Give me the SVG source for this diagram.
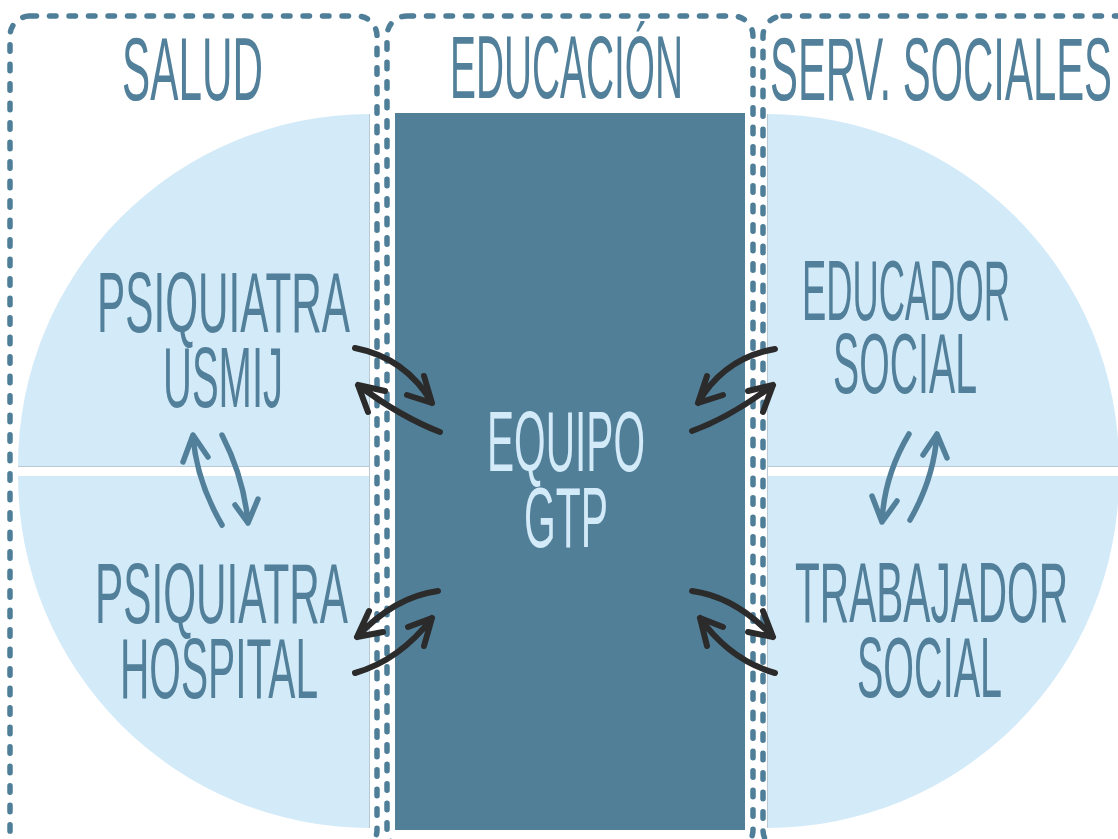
<svg xmlns="http://www.w3.org/2000/svg" width="1118" height="839" viewBox="0 0 1118 839">
<style>
.light{fill:#d3eaf9}
.edge{stroke:#b9c9d3;stroke-width:1;fill:none}
.box{fill:none;stroke:#4f7f98;stroke-width:5.5;stroke-linecap:round;stroke-dasharray:6.5 13}
.t{font-family:"Liberation Sans Narrow","Liberation Sans",Arial,sans-serif;fill:#52809a;text-anchor:middle;font-size:85px}
.h{font-size:89px}
.c{fill:#d3eaf9}
.dk{fill:none;stroke:#2b2b2b;stroke-width:6;stroke-linecap:round;stroke-linejoin:round}
.bl{fill:none;stroke:#52809a;stroke-width:5.5;stroke-linecap:round;stroke-linejoin:round}
</style>
<rect width="1118" height="839" fill="#ffffff"/>
<g id="backdrop">
<path class="light" d="M370,114 A352,352 0 0 0 18,466 L370,466 Z"/>
<path class="light" d="M370,476 L18,476 A352,352 0 0 0 370,828 Z"/>
<path class="light" d="M767,114 A352,352 0 0 1 1119,466 L767,466 Z"/>
<path class="light" d="M767,476 L1119,476 A352,352 0 0 1 767,828 Z"/>
<path class="edge" d="M18,466.5 H370 M767,466.5 H1118 M369.5,114 V828 M767.5,114 V828"/>
</g>
<g id="equipo-gtp">
<rect x="395" y="113" width="350" height="717" fill="#527f98"/>
<text class="t c" x="566" y="471" textLength="158" lengthAdjust="spacingAndGlyphs">EQUIPO</text>
<text class="t c" x="566" y="547" textLength="84" lengthAdjust="spacingAndGlyphs">GTP</text>
</g>
<g id="salud">
<rect class="box" x="10" y="16" width="367" height="834" rx="20"/>
<text class="t h" x="192.5" y="100" textLength="141" lengthAdjust="spacingAndGlyphs">SALUD</text>
</g>
<g id="educacion">
<rect class="box" x="387" y="16" width="366" height="834" rx="20"/>
<text class="t h" x="566.5" y="98" textLength="233" lengthAdjust="spacingAndGlyphs">EDUCACIÓN</text>
</g>
<g id="serv-sociales">
<rect class="box" x="763" y="16" width="380" height="834" rx="20"/>
<text class="t h" x="941" y="100" textLength="342" lengthAdjust="spacingAndGlyphs">SERV. SOCIALES</text>
</g>
<g id="psiquiatra-usmij">
<text class="t" x="223.5" y="332" textLength="253" lengthAdjust="spacingAndGlyphs">PSIQUIATRA</text>
<text class="t" x="223" y="407" textLength="120" lengthAdjust="spacingAndGlyphs">USMIJ</text>
</g>
<g id="psiquiatra-hospital">
<text class="t" x="221.5" y="623" textLength="253" lengthAdjust="spacingAndGlyphs">PSIQUIATRA</text>
<text class="t" x="219" y="698" textLength="198" lengthAdjust="spacingAndGlyphs">HOSPITAL</text>
</g>
<g id="educador-social">
<text class="t" x="906" y="320" textLength="208" lengthAdjust="spacingAndGlyphs">EDUCADOR</text>
<text class="t" x="905" y="393" textLength="144" lengthAdjust="spacingAndGlyphs">SOCIAL</text>
</g>
<g id="trabajador-social">
<text class="t" x="931.5" y="622" textLength="273" lengthAdjust="spacingAndGlyphs">TRABAJADOR</text>
<text class="t" x="929.5" y="697" textLength="145" lengthAdjust="spacingAndGlyphs">SOCIAL</text>
</g>
<g id="connectors">
<path class="dk" d="M355,348 Q406,358 432,403 M424,376 L432,403 L407,395"/>
<path class="dk" d="M440,432 Q401,417 358,385 M385,391 L358,385 L368,412"/>
<path class="dk" d="M775,349 Q724,358 698,403 M707,376 L698,403 L723,395"/>
<path class="dk" d="M692,431 Q731,417 773,385 M748,391 L773,385 L763,412"/>
<path class="dk" d="M438,591 Q394,597 357,637 M369,611 L357,637 L383,632"/>
<path class="dk" d="M355,673 Q400,660 432,618 M408,627 L432,618 L424,646"/>
<path class="dk" d="M692,591 Q736,597 773,637 M763,611 L773,637 L748,632"/>
<path class="dk" d="M775,673 Q730,660 700,618 M723,627 L700,618 L707,646"/>
<path class="bl" d="M222,525 Q196,480 193,435 M183,462 L193,435 L208,457"/>
<path class="bl" d="M222,435 Q244,478 248,523 M235,505 L248,523 L258,499"/>
<path class="bl" d="M909,434 Q884,476 882,522 M872,496 L882,522 L897,501"/>
<path class="bl" d="M910,520 Q934,478 937,434 M923,455 L937,434 L947,458"/>
</g>
</svg>
